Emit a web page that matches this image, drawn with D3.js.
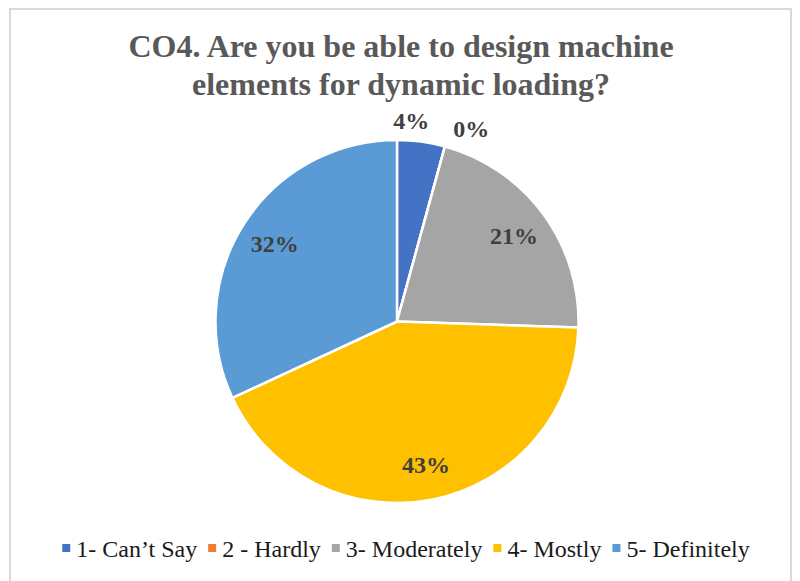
<!DOCTYPE html>
<html>
<head>
<meta charset="utf-8">
<script src="https://cdn.jsdelivr.net/npm/d3@7"></script>
<style>
  html, body { margin: 0; padding: 0; background: #fff; }
  svg { display: block; }
</style>
</head>
<body>
<svg id="chart" width="800" height="581"></svg>
<script>
// ---- data ----
const titleLines = ["CO4. Are you be able to design machine", "elements for dynamic loading?"];
const categories = ["1- Can\u2019t Say", "2 - Hardly", "3- Moderately", "4- Mostly", "5- Definitely"];
const counts = [2, 0, 10, 20, 15];
const colors = ["#4472C4", "#ED7D31", "#A5A5A5", "#FFC000", "#5B9BD5"];

const FONT = '"Liberation Serif", "Times New Roman", Tinos, serif';
const svg = d3.select("#chart");

// frame
svg.append("rect").attr("x", 10).attr("y", 9).attr("width", 781).attr("height", 590)
  .attr("fill", "#fff").attr("stroke", "#d9d9d9").attr("stroke-width", 2);

// title
const titleY = [57, 95];
titleLines.forEach((t, i) => {
  svg.append("text").attr("x", 401).attr("y", titleY[i])
    .attr("text-anchor", "middle")
    .style("font-family", FONT).attr("font-weight", "bold")
    .attr("font-size", 32).attr("fill", "#595959")
    .text(t);
});

// pie
const cx = 397, cy = 321.5, r = 181.5;
const total = d3.sum(counts);
const data = categories.map((c, i) => ({ cat: c, value: counts[i], color: colors[i] }));
const pie = d3.pie().value(d => d.value).sort(null);
const arcs = pie(data);
const arc = d3.arc().innerRadius(0).outerRadius(r);
const g = svg.append("g").attr("transform", `translate(${cx},${cy})`);
g.selectAll("path").data(arcs).enter().append("path")
  .attr("d", arc).attr("fill", d => d.data.color)
  .attr("stroke", "#fff").attr("stroke-width", 2.5).attr("stroke-linejoin", "round");

// labels
const inArc = d3.arc().innerRadius(r * 0.8).outerRadius(r * 0.8);
const pct = d3.format(".0%");
arcs.forEach((d, i) => {
  const frac = d.data.value / total;
  let x, y, anchor = "middle";
  if (frac >= 0.1) {
    [x, y] = inArc.centroid(d);
    y += 9;
  } else {
    const a = (d.startAngle + d.endAngle) / 2;
    const rr = r + 16;
    x = Math.sin(a) * rr;
    y = -Math.cos(a) * rr + 3;
    if (d.data.value === 0) { anchor = "start"; x += 4; y += 3; }
    else { x -= 12; }
  }
  g.append("text").attr("x", x).attr("y", y).attr("text-anchor", anchor)
    .style("font-family", FONT).attr("font-weight", "bold")
    .attr("font-size", 24).attr("fill", "#404040")
    .text(pct(frac));
});

// legend
const legend = svg.append("g");
const items = [];
categories.forEach((c, i) => {
  const it = legend.append("g");
  it.append("rect").attr("x", 0).attr("y", -4).attr("width", 8).attr("height", 8).attr("fill", colors[i]);
  const t = it.append("text").attr("x", 14).attr("y", 8.5)
    .style("font-family", FONT).attr("font-size", 24).attr("fill", "#1a1a1a").text(c);
  items.push({ it, w: 14 + t.node().getComputedTextLength() });
});
const gap = 11;
const totalW = d3.sum(items, d => d.w) + gap * (items.length - 1);
let sx = 406 - totalW / 2;
items.forEach(d => { d.it.attr("transform", `translate(${sx},548)`); sx += d.w + gap; });
</script>
</body>
</html>
